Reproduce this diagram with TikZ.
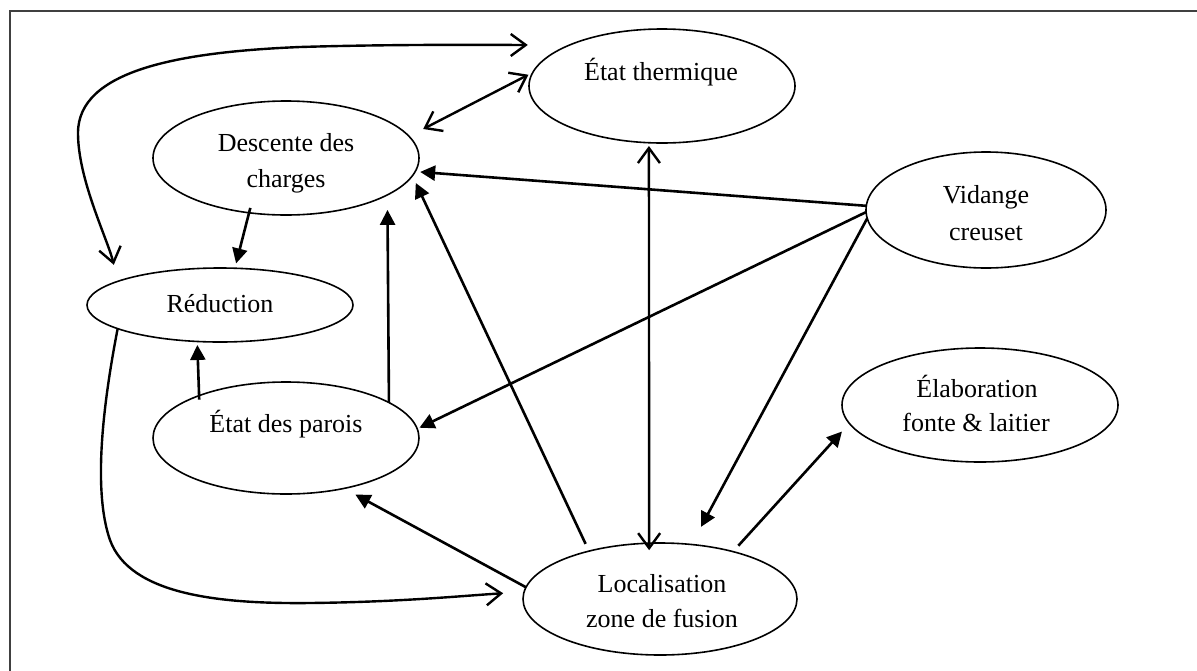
\documentclass[tikz,border=0pt]{standalone}
\usepackage{fontspec}
\setmainfont{Liberation Serif}
\usetikzlibrary{shapes.geometric,arrows.meta}
\begin{document}
\begin{tikzpicture}[x=1pt,y=-1pt,
  bub/.style={ellipse,draw,line width=1.6pt,inner sep=0pt,outer sep=0pt},
  lbl/.style={anchor=base,inner sep=0pt,font=\fontsize{26}{36}\selectfont},
  fa/.style={line width=2.6pt,-{Triangle[length=15pt,width=15pt]}},
  oa/.style={line width=2.4pt,-{Straight Barb[length=15pt,width=22pt]}},
  oo/.style={line width=2.4pt,{Straight Barb[length=15pt,width=22pt]}-{Straight Barb[length=15pt,width=22pt]}}]
\useasboundingbox (0,0) rectangle (1197,670);
\draw[line width=2pt, black!75] (10,672) -- (10,11) -- (1199,11);

% ellipses
\node[bub,minimum width=266pt,minimum height=114pt] (T) at (662,86) {};
\node[bub,minimum width=266pt,minimum height=114pt] (D) at (286,158) {};
\node[bub,minimum width=266pt,minimum height=74pt]  (R) at (220,305) {};
\node[bub,minimum width=266pt,minimum height=112pt] (P) at (286,438) {};
\node[bub,minimum width=240pt,minimum height=116pt] (V) at (986,210) {};
\node[bub,minimum width=276pt,minimum height=114pt] (E) at (980,405) {};
\node[bub,minimum width=274pt,minimum height=112pt] (L) at (660,599) {};

% labels
\node[lbl] (Tt) at (661,80) {État thermique};
\node[lbl] (Dt1) at (286,151) {Descente des};
\node[lbl] (Dt2) at (286,187) {charges};
\node[lbl] (Rt) at (220,312) {Réduction};
\node[lbl] (Pt) at (286,432) {État des parois};
\node[lbl] (Vt1) at (986,203) {Vidange};
\node[lbl] (Vt2) at (986,240) {creuset};
\node[lbl] (Et1) at (977,397) {Élaboration};
\node[lbl] (Et2) at (976,431) {fonte \& laitier};
\node[lbl] (Lt1) at (662,592) {Localisation};
\node[lbl] (Lt2) at (662,627) {zone de fusion};

% filled arrows
\draw[fa, shorten <=-5pt, shorten >=5pt] (D.236.7) -- (R.68);
\draw[fa, shorten <=-4pt, shorten >=3.5pt] (P.154.5) -- (R.238.9);
\draw[fa, shorten >=15pt] (P.19.4) -- (D.340.3);
\draw[fa, shorten >=13pt] (L.175.4) -- (P.319.1);
\draw[fa, shorten <=8pt, shorten >=8pt] (L.146.5) -- (D.352.2);
\draw[fa, shorten >=5pt] (V.178.6) -- (D.354);
\draw[fa, shorten >=2.5pt] (V.181) -- (P.4.3);
\draw[fa, shorten >=20pt] (V.184) -- (L.60.6);
\draw[fa, shorten <=8pt, shorten >=11pt] (L.33) -- (E.188.4);

% open arrows
\draw[oo, shorten <=16pt, shorten >=5pt] (D.10.6) -- (T.174.2);
\draw[oo, shorten <=3.3pt, shorten >=-7pt] (T.257.1) -- (L.101.2);
\draw[oa, shorten >=21pt] (R.193) .. controls (98,430) and (96,500) .. (110,540)
  .. controls (130,595) and (220,604) .. (310,603)
  .. controls (400,602) and (460,596) .. (L.177);
\draw[oo, shorten <=17pt, shorten >=42pt] (R.167.8) .. controls (108,240) and (78,180) .. (78,133)
  .. controls (78,70) and (180,52) .. (300,47)
  .. controls (400,44) and (500,45) .. (T.156.1);
\end{tikzpicture}
\end{document}
